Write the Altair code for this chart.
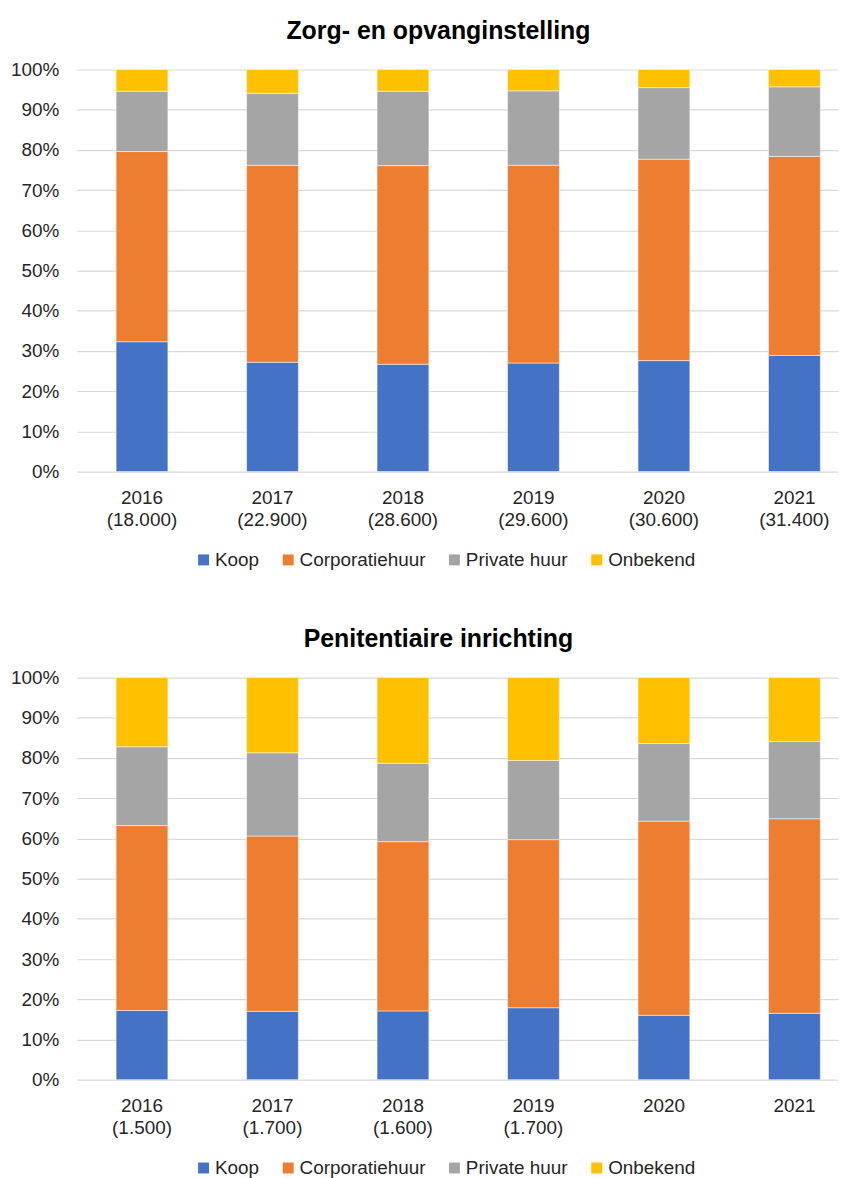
import altair as alt
import pandas as pd

FONT = "Liberation Sans, Arial, sans-serif"

years = ["2016", "2017", "2018", "2019", "2020", "2021"]
counts_zorg = ["(18.000)", "(22.900)", "(28.600)", "(29.600)", "(30.600)", "(31.400)"]
counts_pen = ["(1.500)", "(1.700)", "(1.600)", "(1.700)", "", ""]
categories = ["Koop", "Corporatiehuur", "Private huur", "Onbekend"]
colors = ["#4472C4", "#ED7D31", "#A5A5A5", "#FFC000"]

zorg_koop = [32.3, 27.2, 26.7, 27.0, 27.6, 28.9]
zorg_corp = [47.3, 49.0, 49.4, 49.2, 50.1, 49.5]
zorg_priv = [15.0, 17.9, 18.5, 18.5, 17.8, 17.3]
zorg_onb = [5.4, 5.9, 5.4, 5.3, 4.5, 4.3]

pen_koop = [17.2, 17.0, 17.1, 17.9, 16.0, 16.5]
pen_corp = [46.0, 43.6, 42.1, 41.8, 48.3, 48.4]
pen_priv = [19.6, 20.7, 19.5, 19.7, 19.3, 19.2]
pen_onb = [17.2, 18.7, 21.3, 20.6, 16.4, 15.9]

y_ticks = [i / 10 for i in range(11)]


def panel(title, series, counts):
    rows = []
    order = []
    for i, y in enumerate(years):
        lab = y + ("|" + counts[i] if counts[i] else "")
        order.append(lab)
        for k, cat in enumerate(categories):
            rows.append({"label": lab, "cat": cat, "idx": k, "value": series[k][i] / 100})
    df = pd.DataFrame(rows)
    return alt.Chart(
        df,
        title=alt.TitleParams(
            title, fontSize=25, fontWeight="bold", font=FONT, color="#000000",
            anchor="middle", dx=-19, offset=17,
        ),
    ).mark_bar(stroke="white", strokeWidth=0.5).encode(
        x=alt.X(
            "label:N", sort=order, title=None,
            scale=alt.Scale(paddingInner=0.603, paddingOuter=0.219, align=0.69),
            axis=alt.Axis(
                labelExpr="split(datum.value, '|')", labelAngle=0, labelFontSize=19,
                labelFont=FONT, labelColor="#262626", labelPadding=17, labelLineHeight=22,
                ticks=False, domain=False, grid=False,
            ),
        ),
        y=alt.Y(
            "value:Q", stack="zero", title=None,
            scale=alt.Scale(domain=[0, 1], nice=False),
            axis=alt.Axis(
                format=".0%", values=y_ticks, labelFontSize=19, labelFont=FONT,
                labelColor="#262626", labelPadding=18, ticks=False, domain=False,
                grid=True, gridColor="#d9d9d9", gridWidth=1.2,
            ),
        ),
        color=alt.Color(
            "cat:N", sort=categories,
            scale=alt.Scale(domain=categories, range=colors),
            legend=alt.Legend(
                title=None, orient="none", legendX=118, legendY=483,
                direction="horizontal", symbolType="square", symbolSize=121,
                symbolStrokeWidth=0, labelFontSize=19, labelFont=FONT,
                labelColor="#262626", labelOffset=2, columnPadding=19, padding=0,
                labelLimit=0,
            ),
        ),
        order=alt.Order("idx:Q", sort="ascending"),
    ).properties(width=765, height=404)


c1 = panel("Zorg- en opvanginstelling", [zorg_koop, zorg_corp, zorg_priv, zorg_onb], counts_zorg)
c2 = panel("Penitentiaire inrichting", [pen_koop, pen_corp, pen_priv, pen_onb], counts_pen)

chart = alt.vconcat(c1, c2, spacing=207, bounds="flush").resolve_scale(
    color="independent", x="independent"
).resolve_legend(color="independent").properties(
    padding={"left": 2, "top": 8, "right": 5, "bottom": 0}
).configure_view(stroke=None)

chart.save("out.html", embed_options={"renderer": "svg", "actions": False})
